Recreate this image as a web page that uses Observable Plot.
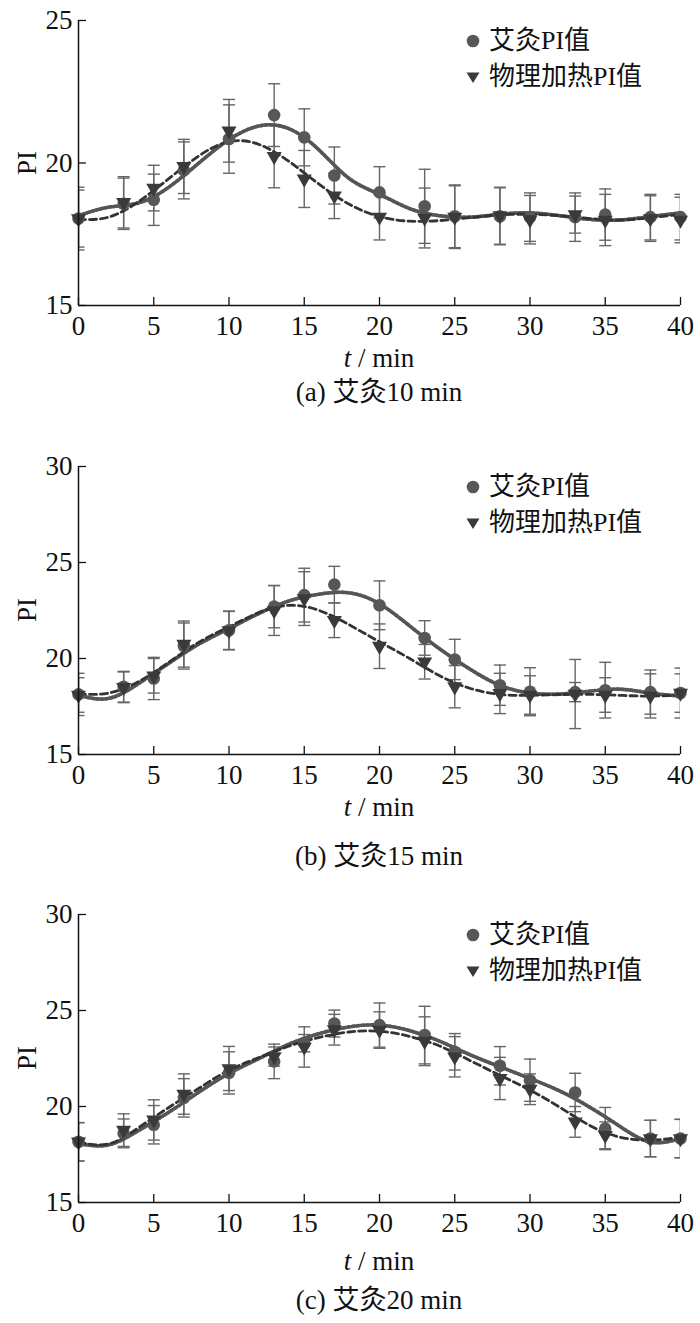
<!DOCTYPE html>
<html><head><meta charset="utf-8">
<script src="https://cdn.jsdelivr.net/npm/d3@7"></script>
<script src="https://cdn.jsdelivr.net/npm/@observablehq/plot@0.6"></script>
<style>
body{margin:0;background:#fff}
#root{position:relative;width:700px;height:1323px;font-family:"Liberation Serif","Times New Roman","Noto Sans CJK SC",serif;color:#111}
.abs{position:absolute;white-space:nowrap;line-height:1}
.panel{position:absolute;left:0;width:700px}
</style></head><body><div id="root"></div>
<script>
// ---- data ----
const times = [0,3,5,7,10,13,15,17,20,23,25,28,30,33,35,38,40];
const fitTimes = [0,2,4,6,8,10,12,14,16,18,20,22,24,26,28,30,32,34,36,38,40];
const xTicks = [0,5,10,15,20,25,30,35,40];
const yTicksA = [15,20,25];
const yTicksBC = [15,20,25,30];
const seriesNames = ["艾灸PI值","物理加热PI值"];
const captions = ["(a) 艾灸10 min","(b) 艾灸15 min","(c) 艾灸20 min"];

// panel (a)
const moxaA    = [18.05,18.57,18.71,19.74,20.84,21.68,20.90,19.56,18.97,18.48,18.13,18.13,18.10,18.10,18.19,18.10,18.10];
const moxaErrA = [1.10,0.90,0.90,1.00,1.20,1.10,1.00,1.00,0.90,1.30,1.10,1.00,0.85,0.85,0.90,0.80,0.80];
const heatA    = [18.05,18.62,19.12,19.88,21.13,20.23,19.44,18.85,18.10,18.07,18.10,18.15,18.01,18.19,18.00,18.05,18.00];
const heatErrA = [1.00,0.90,0.80,0.95,1.10,1.10,1.00,0.80,0.80,1.05,1.10,1.00,0.85,0.65,0.90,0.80,0.80];
const moxaFitA = [18.15,18.45,18.60,19.15,20.00,20.82,21.30,21.20,20.45,19.45,18.90,18.40,18.15,18.10,18.20,18.25,18.15,18.02,18.00,18.12,18.25];
const heatFitA = [18.02,18.10,18.65,19.45,20.25,20.75,20.65,20.05,19.25,18.55,18.12,17.96,17.98,18.08,18.18,18.20,18.15,18.05,18.00,18.08,18.20];

// panel (b)
const moxaB    = [18.13,18.53,18.96,20.65,21.47,22.70,23.30,23.85,22.77,21.07,19.95,18.61,18.27,18.25,18.35,18.25,18.20];
const moxaErrB = [1.10,0.80,1.10,1.20,1.00,1.10,1.40,0.95,1.27,0.90,1.05,1.05,1.25,0.50,1.45,1.15,1.30];
const heatB    = [18.10,18.50,19.10,20.75,21.45,22.50,23.12,21.99,20.64,19.83,18.53,18.18,18.10,18.15,18.10,18.05,18.20];
const heatErrB = [0.90,0.80,0.90,1.20,1.00,1.30,1.40,0.90,1.16,0.90,1.10,1.05,1.00,1.80,0.90,1.15,1.00];
const moxaFitB = [18.09,17.92,18.70,19.75,20.75,21.56,22.35,23.00,23.35,23.42,22.85,21.70,20.50,19.45,18.60,18.20,18.15,18.30,18.40,18.20,18.05];
const heatFitB = [18.15,18.20,18.80,19.80,20.85,21.65,22.40,22.77,22.50,21.75,20.87,20.00,19.10,18.45,18.13,18.08,18.12,18.13,18.08,18.04,18.10];

// panel (c)
const moxaC    = [18.16,18.60,19.05,20.45,21.75,22.35,23.30,24.32,24.24,23.72,22.85,22.12,21.37,20.73,18.85,18.33,18.33];
const moxaErrC = [1.00,0.75,1.00,1.00,1.10,0.90,0.45,0.70,1.15,1.50,0.95,1.00,1.10,1.00,1.10,0.95,1.00];
const heatC    = [18.16,18.77,19.30,20.65,21.98,22.60,23.10,24.00,23.98,23.40,22.59,21.46,20.90,19.20,18.50,18.33,18.33];
const heatErrC = [1.00,0.85,1.05,1.05,1.15,0.50,1.05,0.80,0.95,1.27,1.05,1.10,0.80,0.80,0.70,0.95,1.00];
const moxaFitC = [18.07,18.00,18.75,19.70,20.75,21.72,22.50,23.25,23.80,24.15,24.24,23.95,23.40,22.70,22.07,21.46,20.80,19.95,18.95,18.15,18.33];
const heatFitC = [18.16,18.05,18.90,19.95,20.95,21.89,22.55,23.15,23.60,23.88,23.92,23.65,23.15,22.40,21.63,20.85,19.95,19.00,18.40,18.25,18.39];

// ---- drawing ----
const FONT = '"Liberation Serif","Times New Roman","Noto Sans CJK SC",serif';
const root = document.getElementById("root");
const capSym = {draw(ctx, size){const r = Math.sqrt(size/Math.PI); ctx.moveTo(-r,0); ctx.lineTo(r,0);}};

const panels = [
  {top:0,   plotH:285, yDomain:[15,25], yTicks:yTicksA,  moxa:moxaA, moxaErr:moxaErrA, heat:heatA, heatErr:heatErrA, moxaFit:moxaFitA, heatFit:heatFitA, titleY:358, capY:392},
  {top:446, plotH:288, yDomain:[15,30], yTicks:yTicksBC, moxa:moxaB, moxaErr:moxaErrB, heat:heatB, heatErr:heatErrB, moxaFit:moxaFitB, heatFit:heatFitB, titleY:807, capY:856},
  {top:894, plotH:288, yDomain:[15,30], yTicks:yTicksBC, moxa:moxaC, moxaErr:moxaErrC, heat:heatC, heatErr:heatErrC, moxaFit:moxaFitC, heatFit:heatFitC, titleY:1261, capY:1300}
];

panels.forEach((p, k) => {
  const mT = 20, mB = 65, mL = 78, mR = 20;
  const plotW = 700 - mL - mR;
  const pts = times.map((t,i)=>({t, m:p.moxa[i], me:p.moxaErr[i], h:p.heat[i], he:p.heatErr[i]}));
  const fit = fitTimes.map((t,i)=>({t, m:p.moxaFit[i], h:p.heatFit[i]}));
  const errStyle = {stroke:"#666", strokeWidth:1.4, clip:true};
  const capStyle = {symbol:capSym, r:6, fill:"none", stroke:"#666", strokeWidth:1.4, clip:true};
  const svg = Plot.plot({
    width:700, height:mT + p.plotH + mB,
    marginTop:mT, marginBottom:mB, marginLeft:mL, marginRight:mR,
    style:{fontFamily:FONT, fontSize:"27px", color:"#111", background:"transparent", overflow:"visible"},
    x:{domain:[0,40]},
    y:{domain:p.yDomain},
    marks:[
      Plot.ruleX(pts, {x:"t", y1:d=>d.m-d.me, y2:d=>d.m+d.me, ...errStyle}),
      Plot.ruleX(pts, {x:"t", y1:d=>d.h-d.he, y2:d=>d.h+d.he, ...errStyle}),
      Plot.dot(pts, {x:"t", y:d=>d.m-d.me, ...capStyle}),
      Plot.dot(pts, {x:"t", y:d=>d.m+d.me, ...capStyle}),
      Plot.dot(pts, {x:"t", y:d=>d.h-d.he, ...capStyle}),
      Plot.dot(pts, {x:"t", y:d=>d.h+d.he, ...capStyle}),
      Plot.line(fit, {x:"t", y:"m", curve:"natural", stroke:"#7a7a7a", strokeWidth:3.4}),
      Plot.line(fit, {x:"t", y:"m", curve:"natural", stroke:"#555", strokeWidth:3.6, strokeDasharray:"2,2.6"}),
      Plot.line(fit, {x:"t", y:"h", curve:"natural", stroke:"#333", strokeWidth:2.8, strokeDasharray:"7,4"}),
      Plot.dot(pts, {x:"t", y:"m", r:6.3, fill:"#575757", symbol:"circle"}),
      Plot.dot(pts, {x:"t", y:"h", r:5.6, fill:"#3a3a3a", symbol:"triangle", rotate:180}),
      Plot.tickX(xTicks, {x:d=>d, insetTop:p.plotH - 8, stroke:"#111", strokeWidth:1.3}),
      Plot.tickY(p.yTicks, {y:d=>d, insetRight:plotW - 8, stroke:"#111", strokeWidth:1.3}),
      Plot.ruleX([0], {stroke:"#111", strokeWidth:1.5}),
      Plot.ruleY([p.yDomain[0]], {stroke:"#111", strokeWidth:1.5}),
      Plot.axisX({ticks:xTicks, tickSize:0, tickPadding:10, label:null, fill:"#111"}),
      Plot.axisY({ticks:p.yTicks, tickSize:0, tickPadding:6, label:null, fill:"#111"})
    ]
  });
  const div = document.createElement("div");
  div.className = "panel";
  div.style.top = p.top + "px";
  div.appendChild(svg);
  root.appendChild(div);

  // y label
  const yl = document.createElement("div");
  yl.className = "abs";
  yl.textContent = "PI";
  yl.style.cssText += `font-size:27px;left:27px;top:${p.top + mT + p.plotH/2}px;transform:translate(-50%,-50%) rotate(-90deg);`;
  root.appendChild(yl);

  // x title
  const xt = document.createElement("div");
  xt.className = "abs";
  xt.innerHTML = '<i>t</i> / min';
  xt.style.cssText += `font-size:27px;left:${mL + plotW/2}px;top:${p.titleY}px;transform:translate(-50%,-50%);`;
  root.appendChild(xt);

  // caption
  const cap = document.createElement("div");
  cap.className = "abs";
  cap.textContent = captions[k];
  cap.style.cssText += `font-size:27px;left:${mL + plotW/2}px;top:${p.capY}px;transform:translate(-50%,-50%);`;
  root.appendChild(cap);

  // legend
  const rows = [{y:41, name:seriesNames[0], icon:'<circle cx="8" cy="8" r="6.3" fill="#575757"/>'},
                {y:77, name:seriesNames[1], icon:'<path d="M1.5,3.5 L14.5,3.5 L8,14 Z" fill="#3a3a3a"/>'}];
  rows.forEach(r => {
    const ic = document.createElement("div");
    ic.className = "abs";
    ic.innerHTML = `<svg width="16" height="16" viewBox="0 0 16 16">${r.icon}</svg>`;
    ic.style.cssText += `left:465px;top:${p.top + r.y - 8}px;`;
    root.appendChild(ic);
    const tx = document.createElement("div");
    tx.className = "abs";
    tx.textContent = r.name;
    tx.style.cssText += `font-size:26px;left:489px;top:${p.top + r.y}px;transform:translateY(-50%);`;
    root.appendChild(tx);
  });
});
</script>
</body></html>
